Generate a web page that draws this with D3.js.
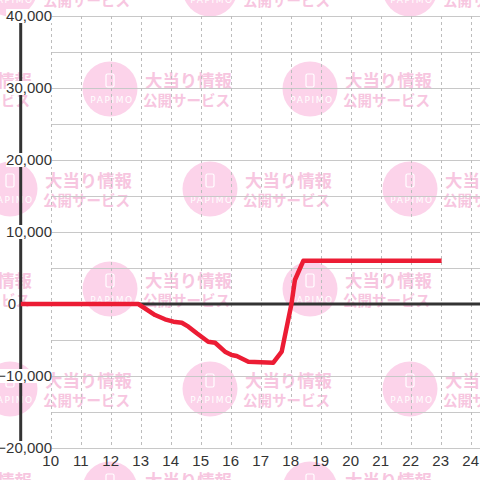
<!DOCTYPE html>
<html>
<head>
<meta charset="utf-8">
<script src="https://cdn.jsdelivr.net/npm/d3@7/dist/d3.min.js"></script>
<style>
html,body{margin:0;padding:0;background:#fff;}
svg{display:block;font-family:"Liberation Sans",Arial,sans-serif;}
</style>
</head>
<body>
<svg id="chart" width="480" height="480"></svg>
<script>
// Data (hour of day, difference value)
const hours  = [9, 12.92, 13.48, 13.81, 14.09, 14.37, 14.59, 14.87, 15.25, 15.48, 15.81, 16.03, 16.2, 16.59, 17.42, 17.7, 18.03, 18.14, 18.42, 23.03];
const values = [0, 0, -1530, -2125, -2460, -2600, -3150, -4070, -5240, -5380, -6620, -7080, -7220, -8010, -8150, -6620, 100, 3330, 6000, 6000];
const xTicks = [10, 11, 12, 13, 14, 15, 16, 17, 18, 19, 20, 21, 22, 23, 24];
const yTicks = [-20000, -10000, 0, 10000, 20000, 30000, 40000];
const yGrid  = [-20000, -15000, -10000, -5000, 0, 5000, 10000, 15000, 20000, 25000, 30000, 35000, 40000];
const wmLine1 = "大当り情報";
const wmLine2 = "公開サービス";
const wmLogo  = "PAPIMO";

const svg = d3.select("#chart");
const x = d3.scaleLinear().domain([9, 24.31]).range([20.7, 480]);
const y = d3.scaleLinear().domain([-20000, 40000]).range([448, 16]);

// Watermark tiles
const wm = svg.append("g");
const tiles = [];
for (let r = 0; r < 6; r++) {
  const cy = -11 + 100 * r;
  const base = (r % 2 === 0) ? 10 : 110;
  for (let k = -1; k < 3; k++) tiles.push([base + 200 * k, cy]);
}
tiles.forEach(([cx, cy]) => {
  const g = wm.append("g");
  g.append("circle").attr("cx", cx).attr("cy", cy).attr("r", 27.5).attr("fill", "#fcd3ea");
  g.append("rect").attr("x", cx - 4).attr("y", cy - 15).attr("width", 8).attr("height", 13)
    .attr("rx", 1.5).attr("fill", "none").attr("stroke", "#fff").attr("stroke-width", 1.2);
  g.append("text").attr("x", cx + 2).attr("y", cy + 14).attr("text-anchor", "middle")
    .attr("font-size", 9).attr("letter-spacing", 1.6).attr("fill", "#fff")
    .attr("font-family", "DejaVu Sans, sans-serif").text(wmLogo);
  g.append("text").attr("x", cx + 35).attr("y", cy - 1.7)
    .attr("font-family", "'Noto Sans CJK JP', sans-serif").attr("font-weight", "bold")
    .attr("font-size", 17.4).attr("fill", "#f7c6e0").text(wmLine1);
  g.append("text").attr("x", cx + 33).attr("y", cy + 16.5)
    .attr("font-family", "'Noto Sans CJK JP', sans-serif").attr("font-weight", "bold")
    .attr("font-size", 14.5).attr("fill", "#f7c6e0").text(wmLine2);
});

// Horizontal grid
svg.append("g").selectAll("line").data(yGrid).join("line")
  .attr("x1", 52).attr("x2", 480)
  .attr("y1", d => Math.round(y(d)) + 0.5).attr("y2", d => Math.round(y(d)) + 0.5)
  .attr("stroke", "#c8c8c8").attr("stroke-width", 1);

// Vertical dashed grid
svg.append("g").selectAll("line").data(xTicks).join("line")
  .attr("x1", d => Math.round(x(d)) + 0.5).attr("x2", d => Math.round(x(d)) + 0.5)
  .attr("y1", y(40000)).attr("y2", y(-20000))
  .attr("stroke", "#bdbdbd").attr("stroke-width", 1).attr("stroke-dasharray", "3,3");

// Zero line and y axis bar
svg.append("line").attr("x1", x(9)).attr("x2", 480).attr("y1", y(0)).attr("y2", y(0))
  .attr("stroke", "#333").attr("stroke-width", 3);
svg.append("line").attr("x1", x(9)).attr("x2", x(9)).attr("y1", y(40000)).attr("y2", y(-20000))
  .attr("stroke", "#333").attr("stroke-width", 3);

// Series line
const line = d3.line().x((d, i) => x(hours[i])).y(d => y(d));
svg.append("path").attr("d", line(values)).attr("fill", "none")
  .attr("stroke", "#ec1c34").attr("stroke-width", 4.5).attr("stroke-linejoin", "round");

// Y labels with white background
const fmt = d3.format(",");
const yl = svg.append("g");
yTicks.forEach(v => {
  const g = yl.append("g");
  const t = g.append("text").attr("x", v === 0 ? 16 : 52).attr("y", y(v) + 5)
    .attr("text-anchor", "end").attr("font-size", 15).attr("fill", "#333").text(fmt(v));
  const b = t.node().getBBox();
  g.insert("rect", "text").attr("x", b.x).attr("y", y(v) - 7).attr("width", b.width).attr("height", 14).attr("fill", "#fff");
});

// X labels
svg.append("g").selectAll("text").data(xTicks).join("text")
  .attr("x", d => x(d)).attr("y", 466).attr("text-anchor", "middle")
  .attr("font-size", 15).attr("fill", "#333").text(d => d);
</script>
</body>
</html>
